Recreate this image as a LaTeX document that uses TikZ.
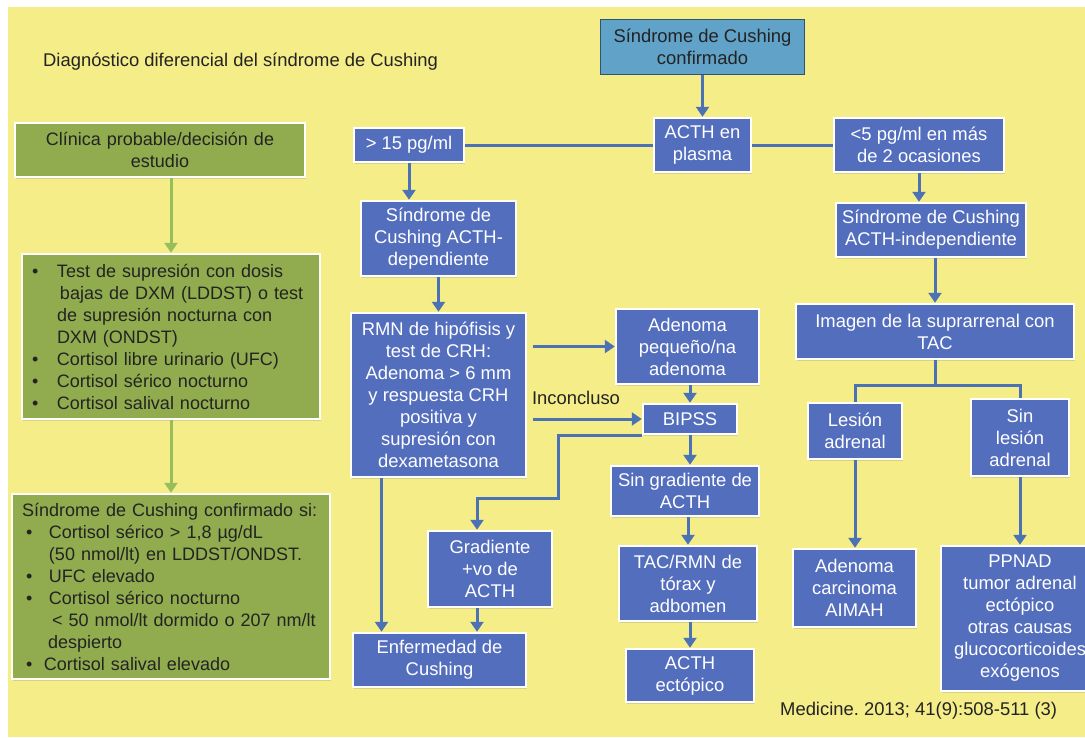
\documentclass[tikz,border=0pt]{standalone}
\usepackage{fontspec}
\setmainfont{Liberation Sans}
\usetikzlibrary{arrows.meta,shadows}
\definecolor{bgyellow}{RGB}{245,237,136}
\definecolor{boxblue}{RGB}{84,110,190}
\definecolor{lineblue}{RGB}{76,114,182}
\definecolor{boxgreen}{RGB}{145,172,78}
\definecolor{linegreen}{RGB}{152,190,92}
\definecolor{boxteal}{RGB}{96,162,200}
\definecolor{tealedge}{RGB}{45,85,115}
\definecolor{darktext}{RGB}{35,35,35}
\frenchspacing
\begin{document}
\begin{tikzpicture}[x=1pt, y=-1pt, font=\fontsize{18.4}{22}\selectfont,
  bluebox/.style={rectangle, fill=boxblue, draw=white, line width=2.5pt, text=white, align=center, inner sep=1pt,
    drop shadow={opacity=0.25, shadow xshift=1pt, shadow yshift=-1.5pt}},
  greenbox/.style={rectangle, fill=boxgreen, draw=white, line width=2.5pt, text=darktext, align=left, inner xsep=10pt, inner ysep=1pt,
    font=\fontsize{18}{22}\selectfont, drop shadow={opacity=0.25, shadow xshift=1pt, shadow yshift=-1.5pt}},
  tealbox/.style={rectangle, fill=boxteal, draw=tealedge, line width=1.5pt, text=darktext, align=center},
  arr/.style={draw=lineblue, line width=3pt, -{Triangle[width=13pt,length=10pt]}},
  con/.style={draw=lineblue, line width=3pt},
  garr/.style={draw=linegreen, line width=3pt, -{Triangle[width=13pt,length=10pt]}},
  note/.style={text=darktext, inner sep=0pt}]
\useasboundingbox (0,0) rectangle (1085,737);
\fill[white] (0,0) rectangle (1085,737);
\fill[bgyellow] (8,7) rectangle (1085,737);

\node[note, anchor=west] (title) at (43,62){Diagnóstico diferencial del síndrome de Cushing};
\node[note, anchor=west] (cite) at (780,711){Medicine. 2013; 41(9):508-511 (3)};

\node[greenbox, text width=270pt, minimum height=54pt, align=center] (clinica) at (160,150){Clínica probable/decisión de\\estudio};
\node[greenbox, text width=278pt, minimum height=165pt] (tests) at (171,336.5){%
\makebox[25pt][l]{\textbullet}Test de supresión con dosis\\
\hspace*{28pt}bajas de DXM (LDDST) o test\\
\hspace*{25pt}de supresión nocturna con\\
\hspace*{25pt}DXM (ONDST)\\
\makebox[25pt][l]{\textbullet}Cortisol libre urinario (UFC)\\
\makebox[25pt][l]{\textbullet}Cortisol sérico nocturno\\
\makebox[25pt][l]{\textbullet}Cortisol salival nocturno};
\node[greenbox, text width=298pt, minimum height=185pt] (confirm) at (171,586.5){%
Síndrome de Cushing confirmado si:\\
\hspace*{4pt}\makebox[23pt][l]{\textbullet}Cortisol sérico > 1,8 µg/dL\\
\hspace*{27pt}(50 nmol/lt) en LDDST/ONDST.\\
\hspace*{4pt}\makebox[23pt][l]{\textbullet}UFC elevado\\
\hspace*{4pt}\makebox[23pt][l]{\textbullet}Cortisol sérico nocturno\\
\hspace*{30pt}< 50 nmol/lt dormido o 207 nm/lt\\
\hspace*{26pt}despierto\\
\hspace*{4pt}\makebox[18pt][l]{\textbullet}Cortisol salival elevado};
\draw[garr](tests.north |- clinica.south) -- (tests.north);
\draw[garr](tests.south) -- (tests.south |- confirm.north);

\node[tealbox, minimum width=204pt, minimum height=55pt] (top) at (702.5,47){Síndrome de Cushing\\confirmado};
\node[bluebox, minimum width=97pt, minimum height=54pt] (acth) at (702.5,145){ACTH en\\plasma};
\node[bluebox, minimum width=110pt, minimum height=34pt] (gt15) at (409,145){> 15 pg/ml};
\node[bluebox, minimum width=170pt, minimum height=54pt] (lt5) at (919,145){<5 pg/ml en más\\de 2 ocasiones};
\draw[arr](top) -- (acth);
\draw[con](acth) -- (gt15);
\draw[con](acth) -- (lt5);

\node[bluebox, minimum width=155pt, minimum height=75pt] (acthdep) at (438.5,238.5){Síndrome de\\Cushing ACTH-\\dependiente};
\node[bluebox, minimum width=190pt, minimum height=54pt] (acthind) at (931,230){Síndrome de Cushing\\ACTH-independiente};
\draw[arr](gt15.south) -- (gt15.south |- acthdep.north);
\draw[arr](lt5.south) -- (lt5.south |- acthind.north);

\node[bluebox, minimum width=175pt, minimum height=164pt] (rmn) at (438.5,395){RMN de hipófisis y\\test de CRH:\\Adenoma > 6 mm\\y respuesta CRH\\positiva y\\supresión con\\dexametasona};
\node[bluebox, minimum width=143pt, minimum height=75pt] (adpeq) at (687.5,346.5){Adenoma\\pequeño/na\\adenoma};
\node[bluebox, minimum width=94pt, minimum height=30pt] (bipss) at (690,419){BIPSS};
\node[bluebox, minimum width=148pt, minimum height=50pt] (singrad) at (685,491){Sin gradiente de\\ACTH};
\node[bluebox, minimum width=124pt, minimum height=76pt] (gradpos) at (490,569){Gradiente\\+vo de\\ACTH};
\node[bluebox, minimum width=173pt, minimum height=54pt] (enfcush) at (439.5,660){Enfermedad de\\Cushing};
\node[bluebox, minimum width=138pt, minimum height=75pt] (tactor) at (688,583.5){TAC/RMN de\\tórax y\\adbomen};
\node[bluebox, minimum width=128pt, minimum height=53pt] (ectop) at (690,675.5){ACTH\\ectópico};
\node[note] (inconcl) at (576,398){Inconcluso};
\draw[arr](acthdep) -- (rmn);
\draw[arr]([xshift=6pt]rmn.east |- adpeq.west) -- (adpeq.west);
\draw[arr]([xshift=6pt]rmn.east |- bipss.west) -- (bipss.west);
\draw[arr](adpeq.south -| bipss.north) -- (bipss.north);
\draw[arr](bipss.south) -- (bipss.south |- singrad.north);
\draw[arr](bipss.south west) -| (558,498) -| ([xshift=-13pt]gradpos.north);
\draw[arr]([xshift=-57pt]rmn.south) -- ([xshift=-57pt]rmn.south |- enfcush.north);
\draw[arr]([xshift=-13pt]gradpos.south) -- ([xshift=-13pt]gradpos.south |- enfcush.north);
\draw[arr](tactor.north |- singrad.south) -- (tactor.north);
\draw[arr](tactor.south -| ectop.north) -- (ectop.north);

\node[bluebox, minimum width=278pt, minimum height=55pt] (imagen) at (935,331.5){Imagen de la suprarrenal con\\TAC};
\node[bluebox, minimum width=94pt, minimum height=56pt] (lesion) at (855,431){Lesión\\adrenal};
\node[bluebox, minimum width=98pt, minimum height=77pt] (sinles) at (1020,437.5){Sin\\lesión\\adrenal};
\node[bluebox, minimum width=123pt, minimum height=78pt] (adcarc) at (854.5,588){Adenoma\\carcinoma\\AIMAH};
\node[bluebox, minimum width=158pt, minimum height=145pt] (ppnad) at (1020,618.5){PPNAD\\tumor adrenal\\ectópico\\otras causas\\glucocorticoides\\exógenos};
\draw[arr](acthind.south -| imagen.north) -- (imagen.north);
\draw[con](imagen.south) -- ++(0,25) coordinate (fork);
\draw[con](lesion.north) |- (fork) -| (sinles.north);
\draw[arr](lesion.south) -- (lesion.south |- adcarc.north);
\draw[arr](sinles.south) -- (ppnad.north);
\end{tikzpicture}
\end{document}
